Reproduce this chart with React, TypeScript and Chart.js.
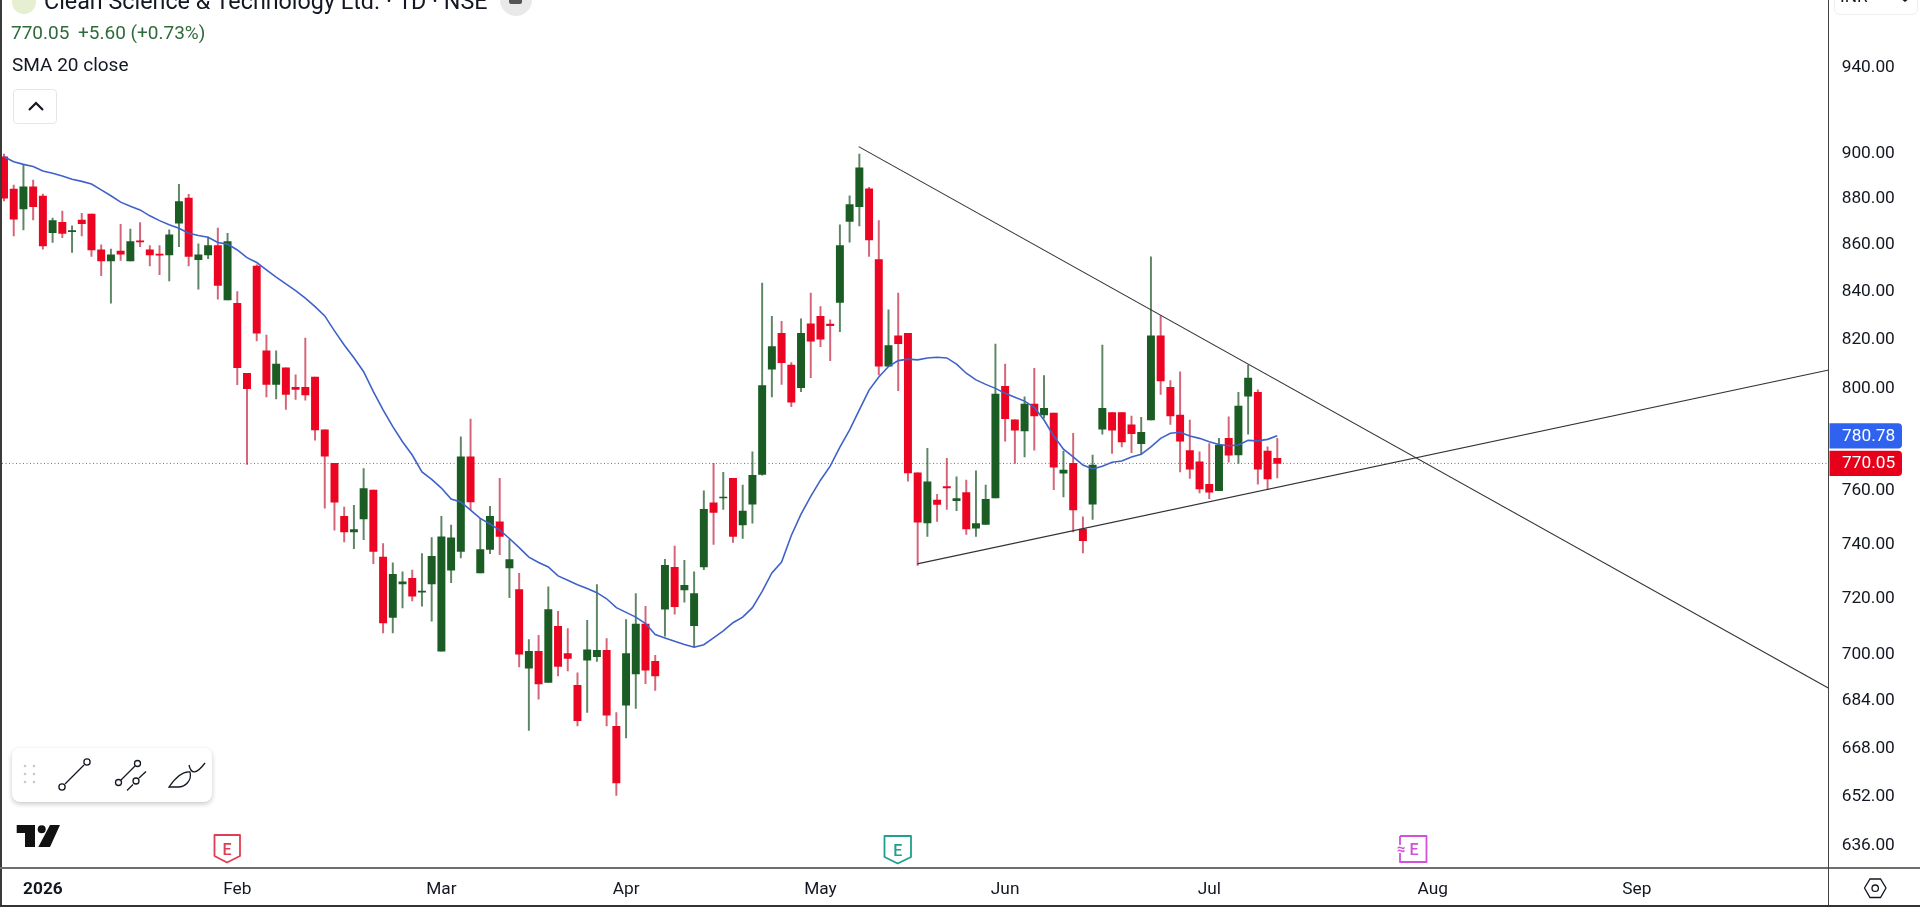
import React, { useEffect, useRef } from "react";
import { Chart, registerables } from "chart.js";

Chart.register(...registerables);

const opens = [898.1,883.7,874.9,884.7,880.6,864.6,869.1,865.0,870.0,872.7,857.1,852.4,856.6,852.4,861.0,857.2,855.3,855.0,868.7,879.7,852.9,855.0,859.0,835.9,834.5,805.7,850.2,814.8,801.2,807.9,800.0,800.0,804.1,783.1,770.1,749.9,744.0,748.9,759.8,734.7,712.8,724.9,726.9,721.9,724.9,700.8,729.9,736.8,772.6,728.9,737.5,747.8,730.7,722.8,694.9,700.8,689.9,709.6,700.0,688.9,697.7,698.9,701.1,674.9,682.1,692.9,710.4,697.3,715.8,730.9,722.7,709.9,731.1,755.0,756.8,764.3,746.7,754.5,765.8,807.3,822.0,809.0,799.9,825.9,829.0,825.8,834.8,869.4,875.9,883.8,853.0,808.6,821.0,822.0,766.4,747.4,756.0,761.2,755.8,758.9,745.4,746.8,756.8,800.4,787.1,782.7,793.3,789.0,789.7,766.3,770.1,745.1,754.5,783.4,789.9,789.9,785.1,777.7,787.0,821.0,800.0,789.0,775.0,770.7,762.0,759.6,779.8,773.3,796.5,798.0,774.8,772.0];
const closes = [879.6,870.4,884.7,875.9,858.8,869.8,864.2,865.4,868.5,857.1,852.4,855.0,855.3,860.7,860.6,855.0,854.9,863.6,878.2,854.3,855.0,859.0,842.0,860.7,807.9,799.5,822.1,801.2,809.4,797.2,799.2,797.0,783.1,772.9,755.2,744.0,744.9,760.4,736.8,710.8,728.4,725.6,720.4,722.3,735.0,742.2,741.8,772.6,755.3,737.5,749.9,742.4,733.8,699.8,700.8,689.4,715.6,695.5,698.3,676.8,701.3,701.1,678.7,656.0,700.0,710.4,694.2,692.2,731.7,716.7,724.4,721.4,752.5,751.4,757.2,742.4,751.9,765.5,800.7,816.5,810.0,794.1,822.0,818.8,819.6,825.2,859.0,876.8,893.1,861.4,808.6,816.9,817.7,766.4,747.7,763.0,754.4,760.6,756.6,745.2,747.2,756.3,797.3,787.5,783.0,793.3,788.6,791.6,768.6,767.5,752.3,740.8,769.4,791.6,783.0,778.4,781.6,782.2,821.0,802.6,788.6,778.7,767.8,760.3,759.0,777.2,773.2,792.5,803.7,767.8,764.1,770.05];
const highs = [899.3,885.5,894.4,887.7,881.5,870.9,874.0,867.5,873.0,872.7,859.3,857.5,868.2,866.1,869.0,859.0,859.0,865.8,885.8,881.3,859.7,862.6,866.5,864.3,839.4,805.7,850.7,821.3,814.8,807.9,805.0,820.0,804.1,783.1,770.1,753.4,754.0,768.1,759.8,739.7,732.6,729.3,729.9,736.0,741.9,749.9,746.6,780.4,787.4,749.1,753.7,764.3,741.2,728.7,704.9,706.4,723.8,715.0,708.8,693.3,711.8,724.6,705.3,679.6,712.0,721.4,716.8,699.4,733.9,738.8,733.5,729.3,759.5,770.1,766.6,764.3,761.7,774.5,843.0,829.0,826.9,810.0,828.0,838.7,833.1,827.6,868.0,880.7,899.3,884.5,869.8,831.7,838.7,822.0,766.4,775.9,758.2,772.0,764.9,763.6,767.2,761.7,817.6,809.4,787.1,796.2,807.7,804.7,789.7,774.8,781.8,749.7,773.3,817.2,789.9,789.9,788.6,788.1,854.1,829.2,802.7,806.3,787.0,774.5,777.8,779.8,788.3,798.0,809.0,799.0,776.5,779.8];
const lows = [878.4,863.2,865.8,870.1,857.4,860.3,862.4,856.0,863.2,854.3,846.1,834.5,852.6,852.4,858.5,850.3,846.5,843.9,858.5,850.3,840.4,853.4,836.2,835.9,801.1,769.7,818.9,796.2,795.4,791.2,795.2,794.9,779.1,753.0,744.7,740.3,737.8,741.2,732.3,707.3,707.3,716.2,718.7,716.8,711.5,700.8,725.3,734.4,752.4,728.9,736.0,735.6,719.9,695.3,673.5,684.2,689.9,692.2,693.9,675.0,679.6,697.2,675.0,651.9,671.0,681.0,689.5,687.2,706.1,714.0,718.3,702.3,730.1,739.4,752.5,740.1,741.6,747.3,765.5,796.2,801.2,792.3,798.3,803.9,816.5,810.8,822.7,860.4,867.5,854.3,805.0,808.4,798.7,763.2,731.6,742.4,748.0,752.5,752.0,743.1,742.4,746.8,756.8,778.7,770.1,772.6,775.2,787.7,760.0,757.2,744.0,736.2,748.7,781.4,773.9,776.5,774.2,773.7,787.0,797.2,785.3,766.8,764.3,758.7,756.6,759.6,770.5,770.1,781.4,762.1,760.0,764.5];
const sma20 = [898.1,895.9,894.7,893.7,891.7,890.7,889.5,888.0,887.1,885.9,883.3,880.7,877.9,876.1,874.5,871.9,869.8,868.0,866.5,864.3,863.3,862.6,860.3,859.6,857.1,853.8,851.7,848.6,845.5,842.6,839.8,836.6,833.1,829.2,823.0,817.2,812.0,806.3,798.3,791.0,784.4,778.5,773.3,766.8,763.9,760.6,756.4,755.3,752.2,749.1,747.0,744.7,741.6,738.2,734.7,732.7,731.1,727.8,726.2,724.6,723.2,721.7,719.5,716.3,714.6,712.9,710.6,706.7,705.5,704.3,703.2,702.2,703.1,705.5,708.0,710.9,712.9,716.3,722.2,728.9,732.9,742.7,750.7,757.4,763.6,769.0,776.4,783.1,791.0,798.9,804.2,808.4,810.8,811.4,811.1,811.9,812.2,811.9,809.4,805.7,803.0,801.2,799.6,797.6,796.0,794.5,792.0,787.0,780.7,775.6,772.6,769.4,767.9,769.0,770.5,771.0,772.5,773.6,776.5,779.8,781.8,782.2,780.7,779.8,778.5,777.4,776.9,777.2,779.0,778.8,779.4,780.78];
const priceTicks = [940,900,880,860,840,820,800,780,760,740,720,700,684,668,652,636];
const timeTickIndex = [4,24,45,64,84,103,124,147,168];
const timeTickLabels = ["2026","Feb","Mar","Apr","May","Jun","Jul","Aug","Sep"];
const fallingTrendIdx = [87.93,187.73];
const fallingTrendPrice = [902.7,687.9];
const risingTrendIdx = [93.96,187.73];
const risingTrendPrice = [732.2,807.0];
const axisIndexRange = [-0.206,187.73];
const axisPriceRange = [628.6,971.6];

const UP = "#1a5c24";
const DOWN = "#ec0523";
const UP_WICK = "rgba(30,88,40,0.72)";
const DOWN_WICK = "rgba(190,20,50,0.66)";
const FONT = "Roboto";

const App = () => {
  const ref = useRef<HTMLCanvasElement | null>(null);
  useEffect(() => {
    if (!ref.current) return;
    const isUp = (i: number) => closes[i] >= opens[i];
    const lastClose = closes[closes.length - 1];
    const lastSma = sma20[sma20.length - 1];
    const tags = {
      id: "tags",
      afterDraw(chart: any) {
        const { ctx, scales } = chart;
        const y = scales.y;
        const draw = (fill: string, txt: string, cy: number) => {
          ctx.save();
          ctx.fillStyle = fill;
          ctx.beginPath();
          ctx.roundRect(1829.5, cy - 12.6, 72.5, 25.2, [0, 4, 4, 0]);
          ctx.fill();
          ctx.fillStyle = "#fff";
          ctx.font = `17.3px ${FONT}`;
          ctx.textBaseline = "middle";
          ctx.textAlign = "left";
          ctx.fillText(txt, 1842, cy + 0.5);
          ctx.restore();
        };
        draw("#2f62ee", lastSma.toFixed(2), y.getPixelForValue(lastSma));
        draw("#e60019", lastClose.toFixed(2), y.getPixelForValue(lastClose));
      },
    };
    const chart = new Chart(ref.current, {
      data: {
        datasets: [
          {
            type: "line",
            label: "Last",
            order: 6,
            data: axisIndexRange.map((x) => ({ x, y: lastClose })),
            borderColor: "#b4545c",
            borderWidth: 1,
            borderDash: [1, 2.5],
            pointRadius: 0,
          },
          {
            type: "bar",
            label: "Wick",
            order: 5,
            data: opens.map((_, i) => ({ x: i, y: [lows[i], highs[i]] })),
            backgroundColor: opens.map((_, i) => (isUp(i) ? UP_WICK : DOWN_WICK)),
            barThickness: 1.3,
            grouped: false,
          },
          {
            type: "bar",
            label: "Body",
            order: 4,
            data: opens.map((_, i) => ({ x: i, y: [opens[i], closes[i]] })),
            backgroundColor: opens.map((_, i) => (isUp(i) ? UP : DOWN)),
            barThickness: 7.3,
            minBarLength: 1,
            grouped: false,
          },
          {
            type: "line",
            label: "SMA 20",
            order: 3,
            data: sma20.map((y, x) => ({ x, y })),
            borderColor: "#3f62c8",
            borderWidth: 1.6,
            pointRadius: 0,
            tension: 0,
          },
          {
            type: "line",
            label: "Trend down",
            order: 2,
            data: fallingTrendIdx.map((x, i) => ({ x, y: fallingTrendPrice[i] })),
            borderColor: "#333",
            borderWidth: 1.1,
            pointRadius: 0,
          },
          {
            type: "line",
            label: "Trend up",
            order: 1,
            data: risingTrendIdx.map((x, i) => ({ x, y: risingTrendPrice[i] })),
            borderColor: "#333",
            borderWidth: 1.1,
            pointRadius: 0,
          },
        ] as any,
      },
      plugins: [tags],
      options: {
        responsive: false,
        animation: false,
        devicePixelRatio: 1,
        layout: { autoPadding: false, padding: { left: 2, top: 0, right: 0, bottom: 0 } },
        plugins: { legend: { display: false }, tooltip: { enabled: false }, title: { display: false } },
        scales: {
          x: {
            type: "linear",
            offset: false,
            min: axisIndexRange[0],
            max: axisIndexRange[1],
            grid: { display: false, drawTicks: false, offset: false },
            border: { display: false },
            afterFit(s: any) {
              s.height = 39;
              s.paddingLeft = 0;
              s.paddingRight = 0;
            },
            afterBuildTicks(s: any) { s.ticks = timeTickIndex.map((value) => ({ value })); },
            ticks: {
              autoSkip: false,
              maxRotation: 0,
              padding: 11,
              color: "#131722",
              font: (c: any) => ({ family: FONT, size: 17.3, weight: c.index === 0 ? "bold" : "normal" }),
              callback: (_: any, i: number) => timeTickLabels[i],
            },
          },
          y: {
            type: "logarithmic",
            position: "right",
            bounds: "data",
            min: axisPriceRange[0],
            max: axisPriceRange[1],
            grid: { display: false, drawTicks: false },
            border: { display: false },
            afterFit(s: any) {
              s.width = 91.3;
              s.paddingTop = 0;
              s.paddingBottom = 0;
            },
            afterBuildTicks(s: any) { s.ticks = priceTicks.map((value) => ({ value })); },
            ticks: {
              autoSkip: false,
              padding: 13,
              labelOffset: 1.5,
              color: "#131722",
              font: { family: FONT, size: 17.3 },
              callback: (v: any) => Number(v).toFixed(2),
            },
          },
        },
      } as any,
    } as any);
    return () => chart.destroy();
  }, []);

  const abs = (s: React.CSSProperties): React.CSSProperties => ({ position: "absolute", ...s });
  return (
    <div style={abs({ left: 0, top: 0, width: 1920, height: 907, overflow: "hidden", background: "#fff", fontFamily: FONT, color: "#131722" })}>
      <canvas ref={ref} width={1920} height={907} style={{ display: "block", width: 1920, height: 907 }} />
      <div style={abs({ left: 0, top: 0, width: 2, height: 907, background: "#3a3a3a" })} />
      <div style={abs({ left: 0, top: 867, width: 1920, height: 2, background: "#6e6e6e" })} />
      <div style={abs({ left: 1828, top: 0, width: 1.4, height: 906, background: "#444" })} />
      <div style={abs({ left: 0, top: 905, width: 1920, height: 2, background: "#333" })} />

      <div style={abs({ left: 12, top: -10, width: 24, height: 24, borderRadius: 12, background: "#e6efd0" })} />
      <div style={abs({ left: 44, top: -13, fontSize: 23.3, lineHeight: "28px", whiteSpace: "nowrap" })}>Clean Science &amp; Technology Ltd. · 1D · NSE</div>
      <div style={abs({ left: 500, top: -16, width: 32, height: 32, borderRadius: 16, background: "#e9e9e9" })} />
      <div style={abs({ left: 509, top: -4, width: 13, height: 8, borderRadius: 2, background: "#555" })} />
      <div style={abs({ left: 11, top: 22, fontSize: 19, lineHeight: "22px", color: "#2f6b3a", whiteSpace: "pre" })}>770.05</div>
      <div style={abs({ left: 78, top: 22, fontSize: 19, lineHeight: "22px", color: "#2f6b3a", whiteSpace: "pre" })}>+5.60 (+0.73%)</div>
      <div style={abs({ left: 12, top: 54, fontSize: 19, lineHeight: "22px" })}>SMA 20 close</div>
      <div style={abs({ left: 12.5, top: 89, width: 44, height: 35, boxSizing: "border-box", border: "1px solid #e6e6e6", borderRadius: 4, background: "#fff" })} />

      <div style={abs({ left: 1834, top: -30, width: 84, height: 45, boxSizing: "border-box", border: "1px solid #eee", borderRadius: 6 })} />
      <div style={abs({ left: 1840, top: -14, fontSize: 17.3, lineHeight: "20px" })}>INR</div>

      <div style={abs({ left: 12, top: 748, width: 200, height: 54, borderRadius: 8, background: "#fff", boxShadow: "0 2px 5px rgba(0,0,0,0.22)" })} />

      <svg width={1920} height={907} style={abs({ left: 0, top: 0 })} fill="none">
        <path d="M29 110 L36 103 L43 110" stroke="#131722" strokeWidth="2.2" />
        <path d="M1900 -2 l5 4 l5 -4" fill="#131722" />
        {[766, 774, 782].map((cy) =>
          [25, 34].map((cx) => <circle key={`${cx}${cy}`} cx={cx} cy={cy} r="1.3" fill="#c4c8d0" />)
        )}
        <g stroke="#131722" strokeWidth="1.3">
          <line x1="65" y1="784" x2="84" y2="765" />
          <circle cx="62" cy="787" r="3.1" />
          <circle cx="87" cy="762" r="3.1" />
          <line x1="121" y1="780" x2="135" y2="766" />
          <circle cx="118.5" cy="782.5" r="3" />
          <circle cx="137.5" cy="763.5" r="3" />
          <line x1="127" y1="790.5" x2="133" y2="784.5" />
          <circle cx="136" cy="781" r="3" />
          <line x1="139" y1="778" x2="146" y2="771.5" />
          <path d="M169 787 C176 777 183 771 190 772 C192 780 186 787 178 787 Z" />
          <path d="M189 765 C191 774 196 775 205 763" />
        </g>
        <g fill="#111">
          <path d="M16.7 825 H35 V847 H25 V833 H16.7 Z" />
          <circle cx="41.7" cy="829.3" r="4" />
          <path d="M50 825 H60 L50 847 H38.3 Z" />
        </g>
        <path d="M214.5 835 H240 V856 L227 862.5 L214.5 856 Z" stroke="#df3d53" strokeWidth="1.8" strokeLinejoin="round" />
        <text x="227" y="855" textAnchor="middle" fontSize="16" fontFamily={FONT} fontWeight="500" fill="#df3d53">E</text>
        <path d="M884.5 836 H911 V857 L897.7 863.5 L884.5 857 Z" stroke="#1fa08e" strokeWidth="1.8" strokeLinejoin="round" />
        <text x="897.7" y="856" textAnchor="middle" fontSize="16" fontFamily={FONT} fontWeight="500" fill="#1fa08e">E</text>
        <path d="M1400 836 H1426.5 V862 H1400 V853 M1400 845 V836" stroke="#cf52d8" strokeWidth="1.8" strokeLinejoin="round" />
        <text x="1401" y="854" textAnchor="middle" fontSize="15" fontFamily={FONT} fontWeight="700" fill="#cf52d8">≈</text>
        <text x="1414" y="855" textAnchor="middle" fontSize="16" fontFamily={FONT} fontWeight="500" fill="#cf52d8">E</text>
        <path d="M1864.5 888 L1870 879 H1880.5 L1886 888 L1880.5 897.5 H1870 Z" stroke="#131722" strokeWidth="1.3" />
        <circle cx="1875.2" cy="888.2" r="3.2" stroke="#131722" strokeWidth="1.3" />
      </svg>
    </div>
  );
};

export default App;
